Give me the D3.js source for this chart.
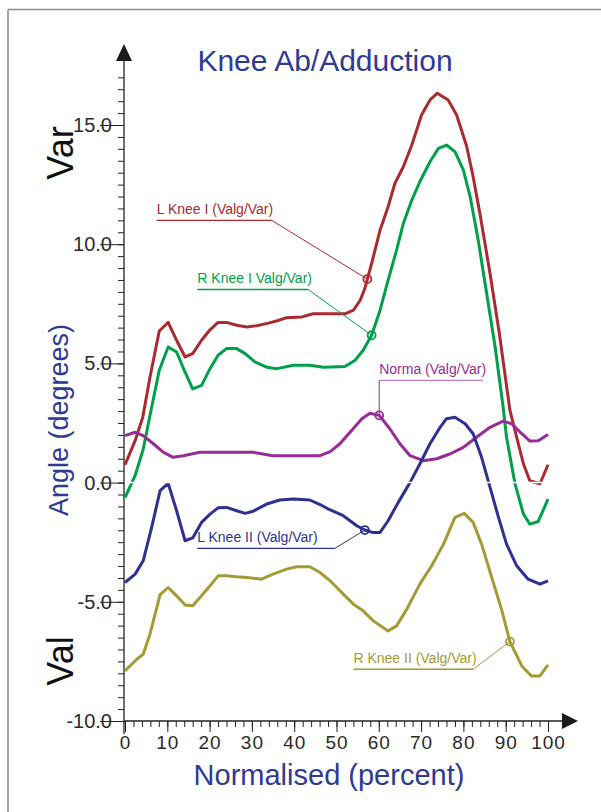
<!DOCTYPE html>
<html>
<head>
<meta charset="utf-8">
<script src="https://cdn.jsdelivr.net/npm/d3@7"></script>
<style>
  body { margin: 0; background: #fff; }
  text { font-family: "Liberation Sans", Arial, sans-serif; }
</style>
</head>
<body>
<div id="chart"></div>
<script>
// Curves as [percent, degrees] pairs
var lKneeI = [[0,0.75],[2.4,1.76],[4.2,2.74],[5.9,4.42],[8.1,6.36],[10.2,6.72],[12.2,5.97],[14.2,5.27],[16,5.41],
  [18.1,5.97],[20.1,6.41],[22,6.72],[24,6.72],[26.4,6.6],[28.8,6.53],[31.1,6.58],[33.9,6.69],[36.2,6.8],[38.2,6.92],
  [41.8,6.95],[44.5,7.08],[49.6,7.08],[52,7.08],[54,7.23],[55.6,7.65],[56.7,8.14],[58.3,9.19],[60.3,10.59],
  [62.2,11.57],[63.8,12.55],[65.8,13.25],[67.8,14.16],[70.1,15.42],[72.1,16.05],[73.8,16.33],[76.4,16.05],
  [78.4,15.42],[80.8,14.09],[82.3,12.83],[83.9,11.29],[86.3,8.77],[88.5,6.25],[91,3.03],[92.6,1.9],[94.2,0.78],
  [95.7,0.08],[98.1,-0.05],[100,0.75]];

var rKneeI = [[0,-0.63],[2.4,0.3],[4.3,1.4],[6.3,3.16],[8.1,4.71],[10.2,5.69],[12.2,5.48],[14.2,4.63],[16,3.93],
  [18.1,4.08],[20.1,4.78],[22,5.34],[24,5.62],[26.4,5.62],[28.4,5.41],[30.7,5.06],[33.5,4.84],[35.9,4.78],
  [39.8,4.92],[43.7,4.92],[46.9,4.84],[52,4.87],[54.4,5.13],[56.3,5.55],[58.3,6.18],[60.3,7.23],[62.2,8.49],
  [64.2,9.75],[65.8,10.87],[67.8,11.85],[69.7,12.62],[72.1,13.46],[74.1,14.02],[76,14.16],[78,13.88],[80,13.11],
  [81.6,11.99],[83.5,10.17],[85.5,7.93],[87.5,5.69],[89.4,3.16],[90.2,1.9],[92.2,-0.05],[94.2,-1.32],[95.7,-1.74],
  [97.7,-1.63],[100,-0.69]];

var norma = [[0,1.97],[2.4,2.11],[4.3,1.97],[6.7,1.63],[9.1,1.27],[11.4,1.06],[13.8,1.13],[17.7,1.27],[22.5,1.27],
  [30.3,1.27],[35,1.13],[39.8,1.13],[46.1,1.13],[48.5,1.3],[50.8,1.63],[53.2,2.11],[56,2.68],[57.9,2.91],
  [60.1,2.82],[62.6,2.26],[65,1.63],[67.4,1.13],[70.5,0.92],[73.7,1.0],[76.8,1.2],[80,1.48],[83.1,1.9],
  [86.3,2.32],[89.4,2.58],[91.4,2.47],[93.8,2.05],[95.7,1.74],[97.7,1.76],[100,2.02]];

var lKneeII = [[0,-4.19],[2.4,-3.84],[4.3,-3.28],[6.3,-1.88],[8.3,-0.34],[10.2,-0.03],[12.2,-1.18],[14.2,-2.44],
  [16,-2.32],[18.1,-1.67],[20.1,-1.32],[22,-1.06],[24,-1.04],[26.4,-1.18],[28.4,-1.29],[30.3,-1.2],[33.5,-0.9],
  [36.6,-0.73],[39.8,-0.69],[43.7,-0.73],[46.1,-0.92],[48,-1.1],[51.6,-1.39],[54.8,-1.81],[56.7,-1.99],
  [58.5,-2.09],[60.3,-2.09],[62.2,-1.6],[64.6,-0.83],[67.4,0.01],[69.7,0.78],[72.1,1.63],[74.5,2.32],[76,2.68],
  [78,2.74],[80.4,2.47],[82.3,2.05],[84.3,1.06],[86.3,-0.2],[88.3,-1.46],[90.2,-2.58],[92.6,-3.49],[95.3,-4.05],
  [98.1,-4.26],[100,-4.12]];

var rKneeII = [[0,-7.9],[2.8,-7.41],[4.3,-7.2],[5.9,-6.36],[8.3,-4.7],[10.2,-4.4],[12.2,-4.75],[14.2,-5.13],
  [16,-5.17],[18.1,-4.75],[20.1,-4.33],[22,-3.91],[24,-3.91],[26.4,-3.95],[28.8,-3.98],[32.3,-4.05],[35,-3.84],
  [38.2,-3.63],[40.6,-3.53],[43.7,-3.53],[46.1,-3.77],[48.5,-4.12],[51.6,-4.68],[54,-5.1],[56.3,-5.38],
  [58.7,-5.8],[62.2,-6.22],[64.2,-6.01],[66.6,-5.31],[69.7,-4.26],[72.5,-3.49],[75.3,-2.58],[78,-1.46],
  [80.2,-1.29],[82.3,-1.67],[84.3,-2.58],[86.7,-3.98],[89,-5.31],[91,-6.67],[93.8,-7.69],[96.1,-8.11],
  [98.1,-8.11],[100,-7.65]];

// Tick values
var xTicks = [0, 10, 20, 30, 40, 50, 60, 70, 80, 90, 100];
var xMinorTicks = d3.range(0, 101, 2);
var yTicks = [-10, -5, 0, 5, 10, 15];
var yMinorTicks = d3.range(-10, 17.01, 0.5);

// Series names, colours, and where each callout points
var seriesNames = ["L Knee I (Valg/Var)", "R Knee I Valg/Var)", "Norma (Valg/Var)", "L Knee II (Valg/Var)", "R Knee II (Valg/Var)"];
var seriesColors = ["#aa2a30", "#00a04b", "#982b96", "#2e3192", "#a39b34"];
var seriesData = [lKneeI, rKneeI, norma, lKneeII, rKneeII];
var calloutAt = [57.3, 58.3, 60.1, 56.7, 91];
// underline of each label: start pct, end pct, value
var labelFrom = [7.5, 17.1, 60.1, 17.1, 54.0];
var labelTo = [34.7, 43.3, 84.6, 49.6, 82.3];
var labelAt = [11.0, 8.1, 4.29, -2.76, -7.83];

var svgWidth = 601;
var svgHeight = 812;

var svg = d3.select("#chart")
  .append("svg")
  .attr("width", svgWidth)
  .attr("height", svgHeight);

var xScale = d3.scaleLinear().domain([0, 100]).range([125, 548]);
var yScale = d3.scaleLinear().domain([-10, 15]).range([721, 125]);
var axisX = 124;
var axisY = yScale(-10);

// frame lines at top and left
svg.append("line").attr("x1", 8).attr("y1", 9.5).attr("x2", svgWidth).attr("y2", 9.5)
  .attr("stroke", "#8a8a8a").attr("stroke-width", 1.5);
svg.append("line").attr("x1", 8).attr("y1", 9.5).attr("x2", 8).attr("y2", svgHeight)
  .attr("stroke", "#8a8a8a").attr("stroke-width", 1.5);

// Y axis: minor ticks, major ticks with labels
svg.append("g")
  .attr("transform", `translate(${axisX},0)`)
  .call(d3.axisLeft(yScale).tickValues(yMinorTicks).tickSize(6).tickFormat(""))
  .call(g => g.select(".domain").remove())
  .selectAll("line").attr("stroke", "#222");

svg.append("g")
  .attr("transform", `translate(${axisX},0)`)
  .call(d3.axisLeft(yScale).tickValues(yTicks).tickSize(24).tickPadding(-12))
  .call(g => g.select(".domain").remove())
  .call(g => g.selectAll("line").attr("stroke", "#222"))
  .call(g => g.selectAll("text")
    .attr("font-family", "'Liberation Sans', Arial, sans-serif")
    .attr("font-size", 20)
    .attr("fill", "#2a2a2a")
    .text(d => d.toFixed(1)));

// X axis
svg.append("g")
  .attr("transform", `translate(0,${axisY})`)
  .call(d3.axisBottom(xScale).tickValues(xMinorTicks).tickSize(6).tickFormat(""))
  .call(g => g.select(".domain").remove())
  .selectAll("line").attr("stroke", "#222");

svg.append("g")
  .attr("transform", `translate(0,${axisY})`)
  .call(d3.axisBottom(xScale).tickValues(xTicks).tickSize(11).tickPadding(4))
  .call(g => g.select(".domain").remove())
  .call(g => g.selectAll("line").attr("stroke", "#222"))
  .call(g => g.selectAll("text")
    .attr("font-family", "'Liberation Sans', Arial, sans-serif")
    .attr("font-size", 19)
    .attr("letter-spacing", 1)
    .attr("fill", "#2a2a2a"));

// axis lines with arrow heads
svg.append("line").attr("x1", axisX).attr("y1", 734).attr("x2", axisX).attr("y2", 58)
  .attr("stroke", "#222").attr("stroke-width", 1.3);
svg.append("path").attr("d", `M${axisX},44 L${axisX - 8},61 L${axisX + 8},61 Z`).attr("fill", "#1a1a1a");
svg.append("line").attr("x1", axisX).attr("y1", axisY).attr("x2", 565).attr("y2", axisY)
  .attr("stroke", "#222").attr("stroke-width", 1.3);
svg.append("path").attr("d", `M578,${axisY} L562,${axisY - 8} L562,${axisY + 8} Z`).attr("fill", "#1a1a1a");

// curves
var line = d3.line()
  .x(d => xScale(d[0]))
  .y(d => yScale(d[1]));

svg.selectAll(".curve")
  .data(seriesData)
  .enter()
  .append("path")
  .classed("curve", true)
  .attr("d", line)
  .attr("fill", "none")
  .attr("stroke", (d, i) => seriesColors[i])
  .attr("stroke-width", 3)
  .attr("stroke-linejoin", "round");

// thin white line at zero cutting through the curves
svg.append("line")
  .attr("x1", xScale(0) + 2).attr("x2", xScale(100) + 4)
  .attr("y1", yScale(0)).attr("y2", yScale(0))
  .attr("stroke", "#fff").attr("stroke-width", 1.5);

// value of a curve at a given percent (linear between read points)
function valueAt(series, x) {
  for (var i = 1; i < series.length; i++) {
    if (x <= series[i][0]) {
      var a = series[i - 1], b = series[i];
      return a[1] + (b[1] - a[1]) * (x - a[0]) / (b[0] - a[0]);
    }
  }
  return series[series.length - 1][1];
}

// callouts
seriesNames.forEach(function(name, i) {
  var color = seriesColors[i];
  var mx = xScale(calloutAt[i]);
  var my = yScale(valueAt(seriesData[i], calloutAt[i]));
  var x0 = xScale(labelFrom[i]);
  var x1 = xScale(labelTo[i]);
  var ly = yScale(labelAt[i]);

  svg.append("line")
    .attr("x1", x0).attr("x2", x1).attr("y1", ly).attr("y2", ly)
    .attr("stroke", color).attr("stroke-width", 1.4)
    .attr("opacity", i === 2 ? 0.6 : 1);

  // Norma leader drops straight down from the start of its underline
  var sx = i === 2 ? x0 : x1;
  svg.append("line")
    .attr("x1", sx).attr("y1", ly).attr("x2", mx).attr("y2", my)
    .attr("stroke", color).attr("stroke-width", 1);

  svg.append("circle")
    .attr("cx", mx).attr("cy", my).attr("r", 4)
    .attr("fill", "none").attr("stroke", color).attr("stroke-width", 1.8);

  svg.append("text")
    .attr("x", x0).attr("y", ly - 6)
    .attr("font-size", 14)
    .attr("fill", color)
    .text(name);
});

// titles
svg.append("text")
  .attr("x", 325).attr("y", 71)
  .attr("text-anchor", "middle")
  .attr("font-size", 30)
  .attr("fill", "#2e3a93")
  .text("Knee Ab/Adduction");

svg.append("text")
  .attr("x", 329).attr("y", 785)
  .attr("text-anchor", "middle")
  .attr("font-size", 29)
  .attr("fill", "#2e3a93")
  .text("Normalised (percent)");

svg.append("text")
  .attr("transform", "translate(68,420) rotate(-90)")
  .attr("text-anchor", "middle")
  .attr("font-size", 27)
  .attr("fill", "#2e3a93")
  .text("Angle (degrees)");

svg.append("text")
  .attr("transform", "translate(73,153) rotate(-90)")
  .attr("text-anchor", "middle")
  .attr("font-size", 36)
  .attr("fill", "#111")
  .text("Var");

svg.append("text")
  .attr("transform", "translate(73,661) rotate(-90)")
  .attr("text-anchor", "middle")
  .attr("font-size", 36)
  .attr("fill", "#111")
  .text("Val");
</script>
</body>
</html>
